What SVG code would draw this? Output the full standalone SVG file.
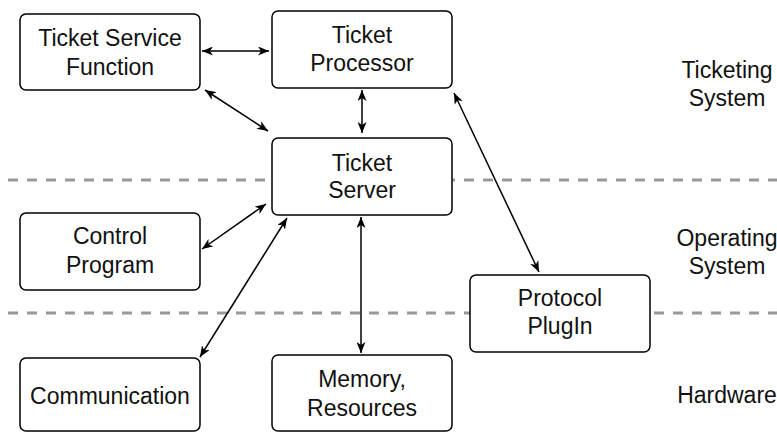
<svg xmlns="http://www.w3.org/2000/svg" width="777" height="432" viewBox="0 0 777 432">
<style>
.bg{fill:#fff}
.box{fill:#fff;stroke:#000;stroke-width:1.5}
.t{font-family:"Liberation Sans",Arial,Helvetica,sans-serif;font-size:23px;fill:#111;text-anchor:middle}
.dash{stroke:#999;stroke-width:3;stroke-dasharray:10 9;fill:none}
.c{stroke:#000;stroke-width:1.5;fill:none;marker-start:url(#ah);marker-end:url(#ah)}
</style>
<defs>
<marker id="ah" markerUnits="userSpaceOnUse" viewBox="0 0 11 9" refX="11" refY="4.5" markerWidth="11" markerHeight="9" orient="auto-start-reverse">
<path d="M0,0 L11,4.5 L0,9 L3,4.5 Z" fill="#000"/>
</marker>
</defs>
<rect class="bg" x="0" y="0" width="777" height="432"/>
<g id="layers">
<line class="dash" x1="8" y1="180" x2="777" y2="180"/>
<line class="dash" x1="8" y1="313" x2="777" y2="313"/>
<text class="t" x="727" y="78">Ticketing</text>
<text class="t" x="727" y="106">System</text>
<text class="t" x="727" y="246">Operating</text>
<text class="t" x="727" y="274">System</text>
<text class="t" x="727" y="403">Hardware</text>
</g>
<g id="connectors">
<line class="c" x1="202" y1="51" x2="269" y2="51"/>
<line class="c" x1="205" y1="90" x2="268" y2="131"/>
<line class="c" x1="362" y1="90" x2="362" y2="133"/>
<line class="c" x1="454" y1="93" x2="539" y2="272"/>
<line class="c" x1="202" y1="249" x2="266" y2="204"/>
<line class="c" x1="200" y1="357" x2="287" y2="218"/>
<line class="c" x1="361" y1="217" x2="361" y2="353"/>
</g>
<g id="ticket-service-function">
<rect class="box" x="20" y="14" width="180" height="76" rx="6"/>
<text class="t" x="110" y="46">Ticket Service</text>
<text class="t" x="110" y="75">Function</text>
</g>
<g id="ticket-processor">
<rect class="box" x="272" y="11" width="180" height="77" rx="6"/>
<text class="t" x="362" y="43">Ticket</text>
<text class="t" x="362" y="71">Processor</text>
</g>
<g id="ticket-server">
<rect class="box" x="272" y="138" width="180" height="77" rx="6"/>
<text class="t" x="362" y="171">Ticket</text>
<text class="t" x="362" y="198">Server</text>
</g>
<g id="control-program">
<rect class="box" x="20" y="213" width="180" height="77" rx="6"/>
<text class="t" x="110" y="244">Control</text>
<text class="t" x="110" y="273">Program</text>
</g>
<g id="protocol-plugin">
<rect class="box" x="470" y="275" width="180" height="77" rx="6"/>
<text class="t" x="560" y="306">Protocol</text>
<text class="t" x="560" y="334">PlugIn</text>
</g>
<g id="communication">
<rect class="box" x="20" y="358" width="180" height="73" rx="6"/>
<text class="t" x="110" y="404">Communication</text>
</g>
<g id="memory-resources">
<rect class="box" x="272" y="355" width="180" height="76" rx="6"/>
<text class="t" x="362" y="387">Memory,</text>
<text class="t" x="362" y="416">Resources</text>
</g>
</svg>
